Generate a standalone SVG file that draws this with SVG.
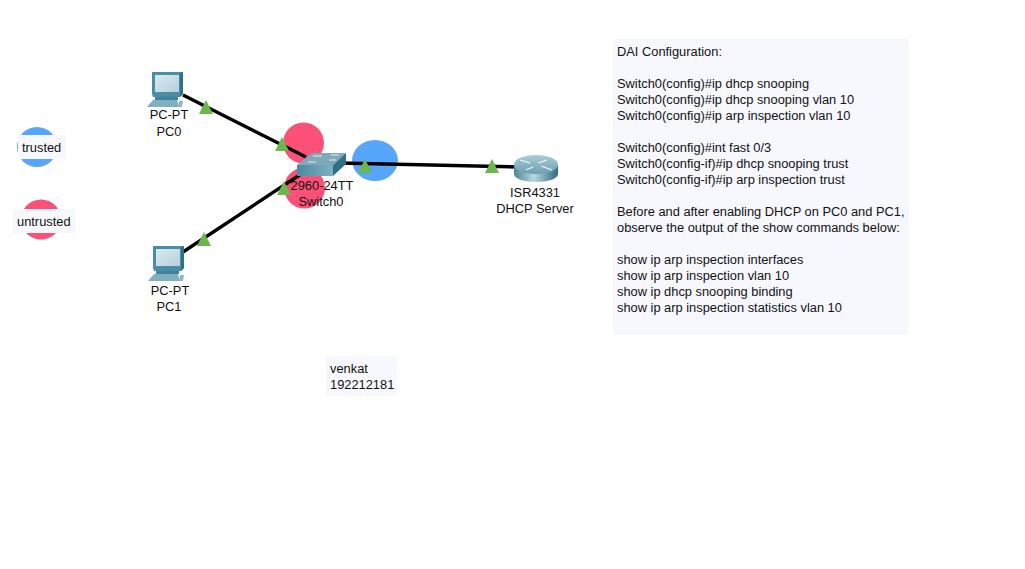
<svg xmlns="http://www.w3.org/2000/svg" width="1025" height="569" viewBox="0 0 1025 569">
<defs>
<linearGradient id="scr" x1="0" y1="0" x2="1" y2="1"><stop offset="0" stop-color="#dbe9ef"/><stop offset="1" stop-color="#b5d0dc"/></linearGradient>
<linearGradient id="body" x1="0" y1="0" x2="1" y2="0"><stop offset="0" stop-color="#4a8aa0"/><stop offset="1" stop-color="#7fb0c0"/></linearGradient>
<linearGradient id="rt" x1="0" y1="0" x2="1" y2="0"><stop offset="0" stop-color="#4f8596"/><stop offset=".45" stop-color="#b9d6de"/><stop offset="1" stop-color="#2f6b7e"/></linearGradient>
<linearGradient id="rtTop" x1="0" y1="0" x2="0" y2="1"><stop offset="0" stop-color="#a9cbd6"/><stop offset="1" stop-color="#6f9fb0"/></linearGradient>
<g id="pc">
<path d="M1 0H32V22L29 25H2L1 22Z" fill="#4a8ea6"/>
<path d="M4 3H28V20H4Z" fill="url(#scr)"/>
<path d="M29 1L32 0V22L29 25Z" fill="#2f7188"/>
<path d="M4 25H27V28H4Z" fill="#3f8299"/>
<path d="M2 28H26L28 35H-4Z" fill="#7fb0c0"/>
<path d="M28 29H32L31 35H27Z" fill="#8fb8c6"/>
</g>
<polygon id="tri" points="0,-7 7,7 -7,7" fill="#6ab84c"/>
</defs>
<style>
text{font-family:"Liberation Sans",Arial,sans-serif;font-size:12.850px;fill:#111}
.c{text-anchor:middle}
.box{fill:#f7f8fe}
.blue{fill:#56a6fb}
.red{fill:#fb5178}
.link{stroke:#000;stroke-width:3.400;fill:none}
</style>
<rect width="1025" height="569" fill="#fff"/>
<g id="legend-trusted">
<circle class="blue" cx="37" cy="147" r="20"/>
<rect class="box" x="18" y="135" width="48" height="24"/>
<text x="22" y="151.500">trusted</text>
</g>
<g id="legend-untrusted">
<circle class="red" cx="41" cy="219.500" r="20"/>
<rect class="box" x="13" y="209" width="62" height="24"/>
<text x="17" y="225.500">untrusted</text>
</g>
<g id="zones">
<circle class="red" cx="303.500" cy="143" r="20.500"/>
<circle class="red" cx="304.500" cy="188" r="20.500"/>
<ellipse class="blue" cx="375" cy="160.500" rx="23" ry="20.500"/>
</g>
<g id="connectors">
<line class="link" x1="183" y1="95" x2="306" y2="157"/>
<line class="link" x1="183" y1="252" x2="304" y2="172"/>
<line class="link" x1="340" y1="163" x2="520" y2="167"/>
</g>
<g id="PC0">
<use href="#pc" x="151" y="72"/>
<text class="c" x="169" y="119">PC-PT</text>
<text class="c" x="169" y="136">PC0</text>
</g>
<g id="PC1">
<use href="#pc" x="152" y="246"/>
<text class="c" x="170" y="295">PC-PT</text>
<text class="c" x="169" y="311">PC1</text>
</g>
<g id="Switch0">
<path d="M297 165L312 153H346L333 165Z" fill="#7fa9b8"/>
<path d="M297 165H333V176H297Z" fill="url(#body)"/>
<path d="M333 165L346 153V164L333 176Z" fill="#2f7086"/>
<g stroke="#dfeef3" stroke-width="1"><line x1="313" y1="156" x2="322" y2="156"/><line x1="331" y1="155" x2="339" y2="155"/><line x1="308" y1="162" x2="316" y2="162"/><line x1="329" y1="160" x2="336" y2="160"/></g>
<text class="c" x="322" y="190">2960-24TT</text>
<text class="c" x="321" y="206">Switch0</text>
</g>
<g id="Router">
<path d="M514 165V174C514 179 525 182 536 182S558 179 558 174V165Z" fill="url(#rt)"/>
<ellipse cx="536" cy="164.500" rx="22" ry="9.500" fill="url(#rtTop)"/>
<g stroke="#f2f8fa" stroke-width="1.300"><line x1="520" y1="160" x2="530" y2="163"/><line x1="538" y1="163" x2="547" y2="160"/><line x1="526" y1="170" x2="533" y2="167"/><line x1="541" y1="166" x2="552" y2="170"/></g>
<text class="c" x="535" y="197">ISR4331</text>
<text class="c" x="535" y="213">DHCP Server</text>
</g>
<g id="link-status">
<use href="#tri" x="206" y="107"/>
<use href="#tri" x="282" y="144"/>
<use href="#tri" x="204" y="239"/>
<use href="#tri" x="284" y="188"/>
<use href="#tri" x="365" y="166"/>
<use href="#tri" x="492" y="166"/>
</g>
<g id="note-config">
<rect class="box" x="613" y="39" width="296" height="296" rx="2"/>
<text x="617" y="56">DAI Configuration:</text>
<text x="617" y="88">Switch0(config)#ip dhcp snooping</text>
<text x="617" y="104">Switch0(config)#ip dhcp snooping vlan 10</text>
<text x="617" y="120">Switch0(config)#ip arp inspection vlan 10</text>
<text x="617" y="152">Switch0(config)#int fast 0/3</text>
<text x="617" y="168">Switch0(config-if)#ip dhcp snooping trust</text>
<text x="617" y="184">Switch0(config-if)#ip arp inspection trust</text>
<text x="617" y="216">Before and after enabling DHCP on PC0 and PC1,</text>
<text x="617" y="232">observe the output of the show commands below:</text>
<text x="617" y="264">show ip arp inspection interfaces</text>
<text x="617" y="280">show ip arp inspection vlan 10</text>
<text x="617" y="296">show ip dhcp snooping binding</text>
<text x="617" y="312">show ip arp inspection statistics vlan 10</text>
</g>
<g id="note-author">
<rect class="box" x="326" y="356" width="71" height="40"/>
<text x="330" y="373">venkat</text>
<text x="330" y="389">192212181</text>
</g>
</svg>
